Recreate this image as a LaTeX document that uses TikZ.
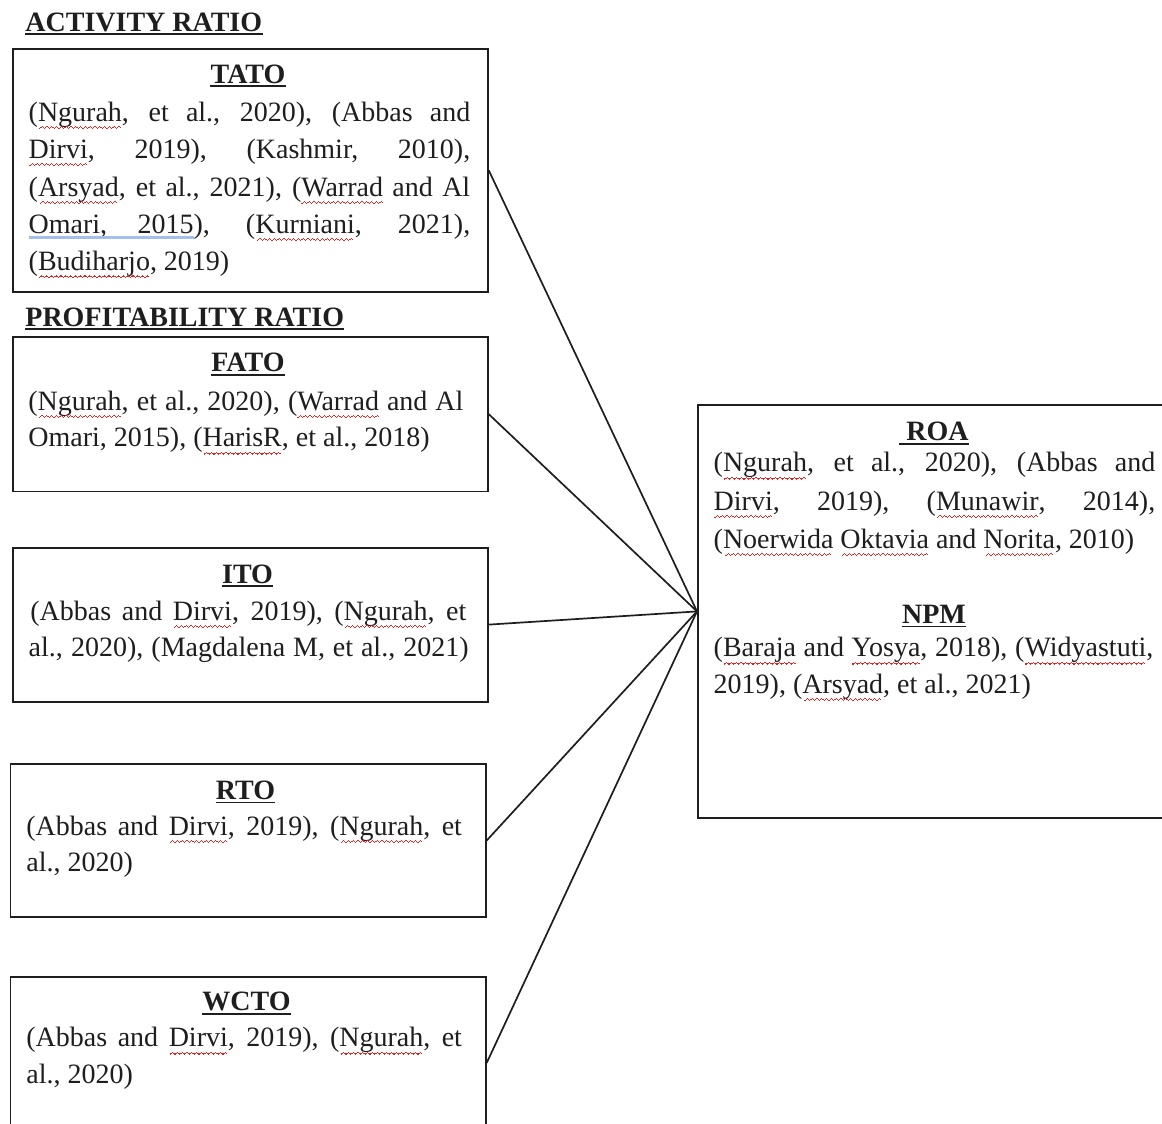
\documentclass[tikz,border=0pt]{standalone}
\usepackage{fontspec}
\setmainfont{Liberation Serif}
\usepackage{xcolor}
\definecolor{spellred}{HTML}{E02424}
\definecolor{gramblue}{HTML}{A4BFEF}
\definecolor{ink}{HTML}{1E1E1E}
\newsavebox\swbox
\newcommand\waveunit{\hbox{\rule[-3.9pt]{0.6pt}{0.55pt}\rule[-3.45pt]{0.6pt}{0.55pt}\rule[-3.0pt]{0.6pt}{0.55pt}\rule[-3.45pt]{0.6pt}{0.55pt}}}
\newcommand\sw[1]{\sbox\swbox{#1}\rlap{\usebox\swbox}\textcolor{spellred}{\hbox to \wd\swbox{\cleaders\waveunit\hfill}}}
\newcommand\bu[1]{\sbox\swbox{#1}\rlap{\usebox\swbox}\textcolor{gramblue}{\rule[-3pt]{\wd\swbox}{1.7pt}}}
\newcommand\bsp{\textcolor{gramblue}{\leaders\hrule height -1.3pt depth 3pt\hskip\fontdimen2\font plus \fontdimen3\font minus \fontdimen4\font}}
\newcommand\jl[2]{\makebox[#1][s]{#2}}
\begin{document}
\begin{tikzpicture}[x=0.5pt,y=-0.5pt,
  box/.style={draw=ink, line width=0.9pt, rectangle, inner sep=0pt, anchor=north west},
  ln/.style={anchor=base west, inner sep=0pt, text=ink, font=\fontsize{14pt}{16pt}\selectfont},
  ttl/.style={anchor=base, inner sep=0pt, text=ink, font=\fontsize{14pt}{16pt}\selectfont\bfseries},
  hdl/.style={anchor=base west, inner sep=0pt, text=ink, font=\fontsize{14pt}{16pt}\selectfont\bfseries},
  ul/.style={draw=ink, line width=0.9pt},
  conn/.style={draw=ink, line width=0.85pt}]
\path[use as bounding box, clip] (0,0) rectangle (1162,1124);
\fill[white] (0,0) rectangle (1162,1124);

% boxes
\node[box, minimum width=237.5pt, minimum height=121.5pt] (tato) at (12,48) {};
\node[box, minimum width=237.5pt, minimum height=77.3pt] (fato) at (12,336) {};
\node[box, minimum width=237.5pt, minimum height=77pt] (ito) at (12,546.7) {};
\node[box, minimum width=237.7pt, minimum height=76.3pt] (rto) at (9.5,763.3) {};
\node[box, minimum width=237.7pt, minimum height=86pt] (wcto) at (9.5,976) {};
\node[box, minimum width=239pt, minimum height=206.2pt] (roa) at (697,404.3) {};

% headings
\node[hdl] (h1) at (25,31.7) {ACTIVITY RATIO};
\draw[ul] ([yshift=-1.3pt]h1.base west) -- ([yshift=-1.3pt]h1.base east);
\node[hdl] (h2) at (25,326.7) {PROFITABILITY RATIO};
\draw[ul] ([yshift=-1.3pt]h2.base west) -- ([yshift=-1.3pt]h2.base east);

% TATO
\node[ttl] (t1) at (248,83) {TATO};
\draw[ul] ([yshift=-1.6pt]t1.base west) -- ([yshift=-1.6pt]t1.base east);
\node[ln] (ta1) at (28.3,121) {\jl{220.8pt}{(\sw{Ngurah}, et al., 2020), (Abbas and}};
\node[ln] (ta2) at (28.3,158) {\jl{220.8pt}{\sw{Dirvi}, 2019), (Kashmir, 2010),}};
\node[ln] (ta3) at (28.3,196) {\jl{220.8pt}{(\sw{Arsyad}, et al., 2021), (\sw{Warrad} and Al}};
\node[ln] (ta4) at (28.3,233) {\jl{220.8pt}{\bu{Omari,}\bsp\bu{2015}), (\sw{Kurniani}, 2021),}};
\node[ln] (ta5) at (28.3,270.5) {(\sw{Budiharjo}, 2019)};

% FATO
\node[ttl] (t2) at (248,371.7) {FATO};
\draw[ul] ([yshift=-1.6pt]t2.base west) -- ([yshift=-1.6pt]t2.base east);
\node[ln] (fa1) at (28,410) {\jl{217.5pt}{(\sw{Ngurah}, et al., 2020), (\sw{Warrad} and Al}};
\node[ln] (fa2) at (28,446.7) {Omari, 2015), (\sw{HarisR}, et al., 2018)};

% ITO
\node[ttl] (t3) at (247.6,583) {ITO};
\draw[ul] ([yshift=-1.6pt]t3.base west) -- ([yshift=-1.6pt]t3.base east);
\node[ln] (it1) at (30,620) {\jl{218pt}{(Abbas and \sw{Dirvi}, 2019), (\sw{Ngurah}, et}};
\node[ln] (it2) at (28.3,656) {\jl{220pt}{al., 2020), (Magdalena M, et al., 2021)}};

% RTO
\node[ttl] (t4) at (245.5,799.3) {RTO};
\draw[ul] ([yshift=-1.6pt]t4.base west) -- ([yshift=-1.6pt]t4.base east);
\node[ln] (rt1) at (26,835) {\jl{217.8pt}{(Abbas and \sw{Dirvi}, 2019), (\sw{Ngurah}, et}};
\node[ln] (rt2) at (26,871) {al., 2020)};

% WCTO
\node[ttl] (t5) at (246.5,1010.7) {WCTO};
\draw[ul] ([yshift=-1.6pt]t5.base west) -- ([yshift=-1.6pt]t5.base east);
\node[ln] (wc1) at (26,1046.7) {\jl{217.8pt}{(Abbas and \sw{Dirvi}, 2019), (\sw{Ngurah}, et}};
\node[ln] (wc2) at (26,1083.3) {al., 2020)};

% ROA
\node[ttl] (t6) at (937.5,440.7) {ROA};
\draw[ul] ([xshift=-3.7pt,yshift=-1.6pt]t6.base west) -- ([yshift=-1.6pt]t6.base east);
\node[ln] (ro1) at (713.3,471.7) {\jl{220.8pt}{(\sw{Ngurah}, et al., 2020), (Abbas and}};
\node[ln] (ro2) at (713.3,510) {\jl{220.8pt}{\sw{Dirvi}, 2019), (\sw{Munawir}, 2014),}};
\node[ln] (ro3) at (713.3,548.3) {(\sw{Noerwida} \sw{Oktavia} and \sw{Norita}, 2010)};

% NPM
\node[ttl] (t7) at (934,623.3) {NPM};
\draw[ul] ([yshift=-1.6pt]t7.base west) -- ([yshift=-1.6pt]t7.base east);
\node[ln] (np1) at (713.3,656.7) {\jl{219.8pt}{(\sw{Baraja} and \sw{Yosya}, 2018), (\sw{Widyastuti},}};
\node[ln] (np2) at (713.3,693.3) {2019), (\sw{Arsyad}, et al., 2021)};

% connectors
\draw[conn] (tato.east) -- (roa.west);
\draw[conn] (fato.east) -- (roa.west);
\draw[conn] (ito.east) -- (roa.west);
\draw[conn] (rto.east) -- (roa.west);
\draw[conn] (wcto.east) -- (roa.west);
\end{tikzpicture}
\end{document}
